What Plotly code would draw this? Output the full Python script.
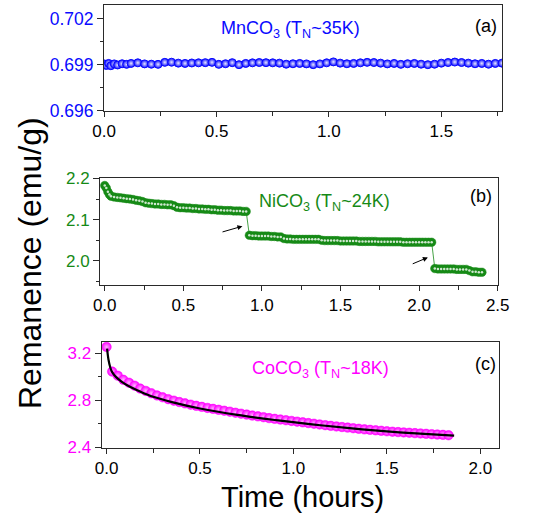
import plotly.graph_objects as go

# ---------------- data ----------------
# (a) MnCO3
mn_time = [0.00, 0.01, 0.02, 0.03, 0.045, 0.06, 0.08, 0.10, 0.12, 0.15, 0.18, 0.21, 0.24, 0.27, 0.30,
           0.33, 0.36, 0.39, 0.42, 0.45, 0.48, 0.51, 0.54, 0.57, 0.60, 0.63, 0.66, 0.69, 0.72, 0.75,
           0.78, 0.81, 0.84, 0.87, 0.90, 0.93, 0.96, 0.99, 1.02, 1.05, 1.08, 1.11, 1.14, 1.17, 1.20,
           1.23, 1.26, 1.29, 1.32, 1.35, 1.38, 1.41, 1.44, 1.47, 1.50, 1.53, 1.56, 1.59, 1.62, 1.65,
           1.68, 1.71, 1.74, 1.77, 1.80]
mn_rem = [0.69905, 0.69895, 0.69908, 0.69893, 0.69905, 0.69898, 0.69906, 0.69902, 0.69908, 0.69912,
          0.69905, 0.69903, 0.69902, 0.69915, 0.69916, 0.69910, 0.69908, 0.69911, 0.69912, 0.69913,
          0.69915, 0.69902, 0.69906, 0.69913, 0.69900, 0.69908, 0.69912, 0.69914, 0.69913, 0.69912,
          0.69910, 0.69903, 0.69906, 0.69908, 0.69905, 0.69900, 0.69905, 0.69912, 0.69918, 0.69910,
          0.69906, 0.69908, 0.69912, 0.69915, 0.69914, 0.69910, 0.69905, 0.69908, 0.69902, 0.69906,
          0.69908, 0.69903, 0.69900, 0.69903, 0.69910, 0.69914, 0.69917, 0.69914, 0.69910, 0.69906,
          0.69908, 0.69903, 0.69908, 0.69910, 0.69909]

# (b) NiCO3
ni_time = [0.00, 0.01, 0.02, 0.03, 0.04, 0.06, 0.08, 0.10, 0.12, 0.14, 0.16, 0.18, 0.20, 0.22, 0.24,
           0.26, 0.28, 0.30, 0.32, 0.34, 0.36, 0.38, 0.40, 0.42, 0.44, 0.46, 0.48, 0.50, 0.52, 0.54,
           0.56, 0.58, 0.60, 0.62, 0.64, 0.66, 0.68, 0.70, 0.72, 0.74, 0.76, 0.78, 0.80, 0.82, 0.84,
           0.86, 0.88, 0.90,
           0.92, 0.94, 0.96, 0.98, 1.00, 1.02, 1.04, 1.06, 1.08, 1.10, 1.12, 1.14, 1.16, 1.18, 1.20,
           1.22, 1.24, 1.26, 1.28, 1.30, 1.32, 1.34, 1.36, 1.38, 1.40, 1.42, 1.44, 1.46, 1.48, 1.50,
           1.52, 1.54, 1.56, 1.58, 1.60, 1.62, 1.64, 1.66, 1.68, 1.70, 1.72, 1.74, 1.76, 1.78, 1.80,
           1.82, 1.84, 1.86, 1.88, 1.90, 1.92, 1.94, 1.96, 1.98, 2.00, 2.02, 2.04, 2.06, 2.08,
           2.10, 2.12, 2.14, 2.16, 2.18, 2.20, 2.22, 2.24, 2.26, 2.28, 2.30, 2.32, 2.34, 2.36, 2.38,
           2.40]
ni_rem = [2.183, 2.177, 2.168, 2.161, 2.157, 2.155, 2.154, 2.153, 2.152, 2.151, 2.150, 2.149, 2.147,
          2.146, 2.144, 2.141, 2.140, 2.139, 2.138, 2.138, 2.137, 2.137, 2.136, 2.136, 2.134, 2.130,
          2.129, 2.129, 2.128, 2.128, 2.127, 2.127, 2.126, 2.126, 2.125, 2.125, 2.124, 2.124, 2.123,
          2.123, 2.122, 2.122, 2.122, 2.121, 2.121, 2.121, 2.120, 2.120,
          2.062, 2.061, 2.061, 2.060, 2.060, 2.060, 2.060, 2.059, 2.059, 2.058, 2.058, 2.054, 2.053,
          2.053, 2.052, 2.052, 2.052, 2.052, 2.052, 2.052, 2.052, 2.052, 2.052, 2.050, 2.049, 2.049,
          2.049, 2.049, 2.049, 2.048, 2.048, 2.048, 2.048, 2.048, 2.048, 2.047, 2.047, 2.047, 2.047,
          2.047, 2.047, 2.046, 2.046, 2.046, 2.046, 2.046, 2.046, 2.046, 2.046, 2.045, 2.045, 2.045,
          2.045, 2.045, 2.045, 2.045, 2.045, 2.045, 2.045,
          1.981, 1.980, 1.980, 1.980, 1.980, 1.980, 1.980, 1.979, 1.979, 1.979, 1.979, 1.976, 1.973,
          1.973, 1.972, 1.972]
ni_arrows = [(0.74, 2.069, 0.876, 2.084), (1.95, 1.991, 2.056, 2.008)]  # tail x, tail y, head x, head y

# (c) CoCO3
co_time = [0.00, 0.03, 0.06, 0.09, 0.12, 0.15, 0.18, 0.21, 0.24, 0.27, 0.30, 0.33, 0.36, 0.39, 0.42,
           0.45, 0.48, 0.51, 0.54, 0.57, 0.60, 0.63, 0.66, 0.69, 0.72, 0.75, 0.78, 0.81, 0.84, 0.87,
           0.90, 0.93, 0.96, 0.99, 1.02, 1.05, 1.08, 1.11, 1.14, 1.17, 1.20, 1.23, 1.26, 1.29, 1.32,
           1.35, 1.38, 1.41, 1.44, 1.47, 1.50, 1.53, 1.56, 1.59, 1.62, 1.65, 1.68, 1.71, 1.74, 1.77,
           1.80, 1.83]
co_rem = [3.255, 3.045, 3.010, 2.975, 2.950, 2.925, 2.900, 2.880, 2.860, 2.842, 2.826, 2.810, 2.797,
          2.785, 2.774, 2.763, 2.753, 2.744, 2.735, 2.727, 2.719, 2.711, 2.703, 2.694, 2.686, 2.678,
          2.670, 2.663, 2.656, 2.648, 2.642, 2.636, 2.630, 2.624, 2.618, 2.612, 2.606, 2.600, 2.594,
          2.588, 2.582, 2.577, 2.572, 2.567, 2.562, 2.557, 2.552, 2.548, 2.544, 2.540, 2.536, 2.532,
          2.529, 2.526, 2.523, 2.520, 2.517, 2.514, 2.511, 2.508, 2.505, 2.502]
co_fit_time = [0.003, 0.01, 0.02, 0.03, 0.05, 0.08, 0.12, 0.18, 0.25, 0.35, 0.50, 0.70, 0.90, 1.10,
               1.30, 1.50, 1.70, 1.86]
co_fit_rem = [3.24, 3.15, 3.08, 3.04, 3.00, 2.96, 2.92, 2.875, 2.83, 2.785, 2.73, 2.675, 2.632, 2.595,
              2.562, 2.535, 2.513, 2.498]

x_ticks = [0.0, 0.5, 1.0, 1.5, 2.0, 2.5]

# ---------------- styles ----------------
W, H = 558, 520
BLUE = "#0a0aff"
GREEN = "#168a16"
MAGENTA = "#ff00ff"
FONT = "Liberation Sans, Arial, sans-serif"
FRAME = "#2a2a2a"


def px_dom(a, b):
    return [a / W, b / W]


def ydom(top, bottom):
    return [1 - bottom / H, 1 - top / H]


fig = go.Figure()

# (a)
fig.add_trace(go.Scatter(x=mn_time, y=mn_rem, mode="markers", xaxis="x", yaxis="y",
                         marker=dict(size=8, color=BLUE, line=dict(color=BLUE, width=1),
                                     gradient=dict(type="radial", color="#e8e8ff")),
                         showlegend=False))
# (b)
fig.add_trace(go.Scatter(x=ni_time, y=ni_rem, mode="lines+markers", xaxis="x2", yaxis="y2",
                         line=dict(color=GREEN, width=0.8),
                         marker=dict(size=8.5, color=GREEN, line=dict(color=GREEN, width=0.5)),
                         showlegend=False))
fig.add_trace(go.Scatter(x=ni_time, y=ni_rem, mode="markers", xaxis="x2", yaxis="y2",
                         marker=dict(size=2.5, color="white", opacity=0.8),
                         showlegend=False, hoverinfo="skip"))
# (c)
fig.add_trace(go.Scatter(x=co_time, y=co_rem, mode="markers", xaxis="x3", yaxis="y3",
                         marker=dict(size=9.5, color=MAGENTA, line=dict(color=MAGENTA, width=0.5),
                                     gradient=dict(type="radial", color="#ffb8ff")),
                         showlegend=False))
fig.add_trace(go.Scatter(x=co_fit_time, y=co_fit_rem, mode="lines", xaxis="x3", yaxis="y3",
                         line=dict(color="black", width=2.2, shape="spline"),
                         showlegend=False))

common_x = dict(showline=True, linecolor=FRAME, linewidth=1, mirror=True, ticks="outside",
                ticklen=5, tickwidth=1, tickcolor=FRAME, showgrid=False, zeroline=False,
                automargin=False,
                tickvals=x_ticks, ticktext=[f"{v:.1f}" for v in x_ticks],
                tickfont=dict(family=FONT, size=17, color="black"),
                minor=dict(ticks="outside", ticklen=4, tickcolor=FRAME, dtick=0.25, tick0=0,
                           showgrid=False))
common_y = dict(showline=True, linecolor=FRAME, linewidth=1, mirror=True, ticks="outside",
                ticklen=6, tickwidth=1, tickcolor=FRAME, showgrid=False, zeroline=False,
                automargin=False)

fig.update_layout(
    width=W, height=H, margin=dict(l=0, r=0, t=0, b=0),
    paper_bgcolor="white", plot_bgcolor="white",
    font=dict(family=FONT),
    xaxis=dict(common_x, domain=px_dom(104, 502), range=[-0.0005, 1.77], anchor="y"),
    yaxis=dict(common_y, domain=ydom(5, 110.7), range=[0.69599, 0.7029], anchor="x",
               tick0=0.696, dtick=0.003, tickformat=".3f",
               tickfont=dict(family=FONT, size=17.5, color=BLUE),
               minor=dict(ticks="outside", ticklen=3, tickcolor=FRAME, dtick=0.0015, tick0=0.696)),
    xaxis2=dict(common_x, domain=px_dom(100, 498), range=[-0.03, 2.502], anchor="y2"),
    yaxis2=dict(common_y, domain=ydom(178.3, 285), range=[1.941, 2.2005], anchor="x2",
                tick0=2.0, dtick=0.1, tickformat=".1f",
                tickfont=dict(family=FONT, size=17, color=GREEN),
                minor=dict(ticks="outside", ticklen=3, tickcolor=FRAME, dtick=0.05, tick0=2.0)),
    xaxis3=dict(common_x, domain=px_dom(101.5, 499), range=[-0.027, 2.10], anchor="y3"),
    yaxis3=dict(common_y, domain=ydom(341.7, 448), range=[2.393, 3.30], anchor="x3",
                tick0=2.4, dtick=0.4, tickformat=".1f",
                tickfont=dict(family=FONT, size=17, color=MAGENTA),
                minor=dict(ticks="outside", ticklen=3, tickcolor=FRAME, dtick=0.2, tick0=2.4)),
)

ann = []


def label(text, x, y, color, size=18):
    ann.append(dict(text=text, x=x / W, y=1 - y / H, xref="paper", yref="paper",
                    showarrow=False, xanchor="center", yanchor="middle",
                    font=dict(family=FONT, size=size, color=color)))


label("MnCO<sub>3</sub> (T<sub>N</sub>~35K)", 290, 29, BLUE)
label("(a)", 486, 26, "black")
label("NiCO<sub>3</sub> (T<sub>N</sub>~24K)", 324, 203, GREEN)
label("(b)", 481, 196, "black")
label("CoCO<sub>3</sub> (T<sub>N</sub>~18K)", 320, 369, MAGENTA)
label("(c)", 485, 364, "black")
label("Time (hours)", 302, 497, "black", size=29)
ann.append(dict(text="Remanence (emu/g)", x=30 / W, y=1 - 263 / H, xref="paper", yref="paper",
                showarrow=False, textangle=-90, xanchor="center", yanchor="middle",
                font=dict(family=FONT, size=32, color="black")))

for tx, ty, hx, hy in ni_arrows:
    ann.append(dict(x=hx, y=hy, ax=tx, ay=ty, xref="x2", yref="y2", axref="x2", ayref="y2",
                    text="", showarrow=True, arrowhead=2, arrowsize=1, arrowwidth=1,
                    arrowcolor="black"))

fig.update_layout(annotations=ann)
# remove the page's default 8px body margin so the figure sits at the window's top-left corner
fig.write_html("out.html", config={"displayModeBar": False},
               post_script="document.body.style.margin='0px';document.body.style.overflow='hidden';")
